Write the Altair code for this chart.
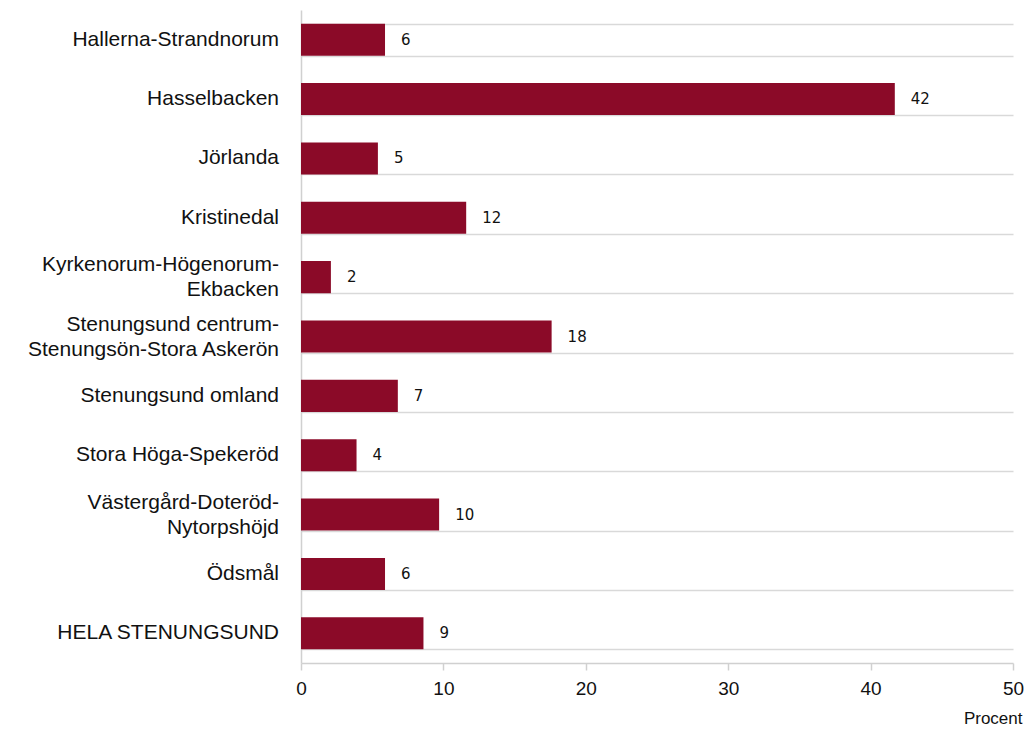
import altair as alt
import pandas as pd

categories = [
    "Hallerna-Strandnorum",
    "Hasselbacken",
    "Jörlanda",
    "Kristinedal",
    "Kyrkenorum-Högenorum-\nEkbacken",
    "Stenungsund centrum-\nStenungsön-Stora Askerön",
    "Stenungsund omland",
    "Stora Höga-Spekeröd",
    "Västergård-Doteröd-\nNytorpshöjd",
    "Ödsmål",
    "HELA STENUNGSUND",
]
values = [5.9, 41.7, 5.4, 11.6, 2.1, 17.6, 6.8, 3.9, 9.7, 5.9, 8.6]
labels = [6, 42, 5, 12, 2, 18, 7, 4, 10, 6, 9]

df = pd.DataFrame({"cat": categories, "val": values, "lab": labels})
df["line1"] = [c.split("\n")[0] for c in categories]
df["line2"] = [c.split("\n")[1] if "\n" in c else "" for c in categories]
df["multi"] = ["\n" in c for c in categories]

FONT = "Liberation Sans"
LBL_SIZE = 21

ysc = alt.Scale(paddingInner=0.46, paddingOuter=0.23)

y = alt.Y(
    "cat:N",
    sort=categories,
    title=None,
    scale=ysc,
    axis=alt.Axis(
        labels=False,
        ticks=False,
        domain=True,
        domainColor="#d0d0d0",
        domainWidth=1.5,
        grid=True,
        gridColor="#d9d9d9",
        gridWidth=1.5,
        tickBand="extent",
    ),
)

bars = alt.Chart(df).mark_bar(color="#8B0A28").encode(
    x=alt.X(
        "val:Q",
        scale=alt.Scale(domain=[0, 50]),
        title="Procent",
        axis=alt.Axis(
            values=[0, 10, 20, 30, 40, 50],
            grid=False,
            domainColor="#d0d0d0",
            domainWidth=1.5,
            tickColor="#d0d0d0",
            tickWidth=1.5,
            tickSize=7,
            labelFlush=False,
            labelFont=FONT,
            labelFontSize=19,
            labelColor="#111111",
            labelPadding=9,
            titleFont=FONT,
            titleFontSize=17,
            titleFontWeight="normal",
            titleColor="#111111",
            titleAnchor="end",
            titleAlign="right",
            titleBaseline="top",
            titleX=721,
            titleY=47,
        ),
    ),
    y=y,
)

text = alt.Chart(df).mark_text(
    align="left", baseline="middle", dx=16, fontSize=15, font="DejaVu Sans", color="#111111"
).encode(
    x="val:Q",
    y=alt.Y("cat:N", sort=categories),
    text="lab:Q",
)

def ylabel(field, dy, filt):
    return (
        alt.Chart(df)
        .transform_filter(filt)
        .mark_text(align="right", baseline="middle", dx=-22, dy=dy, fontSize=LBL_SIZE, font=FONT, color="#111111")
        .encode(x=alt.value(0), y=alt.Y("cat:N", sort=categories), text=f"{field}:N")
    )

lab_single = ylabel("line1", 0, "!datum.multi")
lab_top = ylabel("line1", -12, "datum.multi")
lab_bot = ylabel("line2", 13, "datum.multi")

chart = (
    alt.layer(bars, text, lab_single, lab_top, lab_bot)
    .properties(
        width=712,
        height=653,
        autosize=alt.AutoSizeParams(type="none"),
        padding={"left": 293, "top": 2, "right": 11, "bottom": 68},
    )
    .configure_view(stroke=None)
)

chart.save("out.html", embed_options={"renderer": "svg", "actions": False})
